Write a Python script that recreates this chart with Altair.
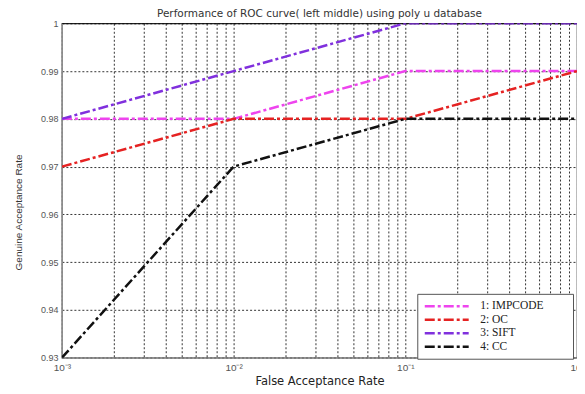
import altair as alt
import pandas as pd

far = [0.001, 0.01, 0.1, 1.0]
impcode = [0.98, 0.98, 0.99, 0.99]
oc = [0.97, 0.98, 0.98, 0.99]
sift = [0.98, 0.99, 1.00, 1.00]
cc = [0.93, 0.97, 0.98, 0.98]
series_names = ["1: IMPCODE", "2: OC", "3: SIFT", "4: CC"]
series_colors = ["#ee44ee", "#e52222", "#8030dd", "#111111"]

x_ticks = [m * 10.0 ** e for e in (-3, -2, -1) for m in range(1, 10)] + [1.0]
y_ticks = [0.93, 0.94, 0.95, 0.96, 0.97, 0.98, 0.99, 1.0]

rows = []
for name, vals in zip(series_names, [impcode, oc, sift, cc]):
    for xv, yv in zip(far, vals):
        rows.append({"series": name, "far": xv, "gar": yv})
df = pd.DataFrame(rows)

xlabel = ("abs(log(datum.value)/LN10 - round(log(datum.value)/LN10)) > 0.001 ? '' : "
          "round(log(datum.value)/LN10) == -3 ? '10\u207b\u00b3' : "
          "round(log(datum.value)/LN10) == -2 ? '10\u207b\u00b2' : "
          "round(log(datum.value)/LN10) == -1 ? '10\u207b\u00b9' : '10\u2070'")

dash = [10, 3, 3, 3]

chart = alt.Chart(df).mark_line(strokeWidth=2.5, strokeDash=dash, clip=True).encode(
    x=alt.X("far:Q", scale=alt.Scale(type="log", domain=[0.001, 1]),
            axis=alt.Axis(values=x_ticks, labelExpr=xlabel, title="False Acceptance Rate",
                          grid=True, gridDash=[2, 2], gridColor="#000", gridOpacity=0.8,
                          ticks=False, labelFontSize=10, labelColor="#555", labelPadding=5,
                          labelFlush=False, titleFontWeight="normal", titleFontSize=11.5,
                          titleColor="#222", titlePadding=3, domainColor="#999",
                          labelFont="Liberation Sans", titleFont="DejaVu Sans")),
    y=alt.Y("gar:Q", scale=alt.Scale(domain=[0.93, 1.0], nice=False, zero=False),
            axis=alt.Axis(values=y_ticks,
                          labelExpr="datum.value >= 0.9999 ? '1' : format(datum.value, '.2f')",
                          title="Genuine Acceptance Rate", grid=True, gridDash=[2, 2],
                          gridColor="#000", gridOpacity=0.8, ticks=False, labelFontSize=9,
                          labelColor="#555", labelPadding=4, titleFontWeight="normal",
                          titleFontSize=10, titleColor="#333", titlePadding=17,
                          titleY=189, titleAlign="center",
                          domainColor="#999", labelFont="Liberation Sans",
                          titleFont="Liberation Sans")),
    color=alt.Color("series:N", scale=alt.Scale(domain=series_names, range=series_colors),
                    legend=alt.Legend(title=None, orient="none", legendX=356, legendY=271,
                                      symbolType="M-1,0L7.8,0", symbolStrokeWidth=2.5,
                                      symbolDash=dash, symbolSize=100,
                                      labelFont="Liberation Serif", labelFontSize=11.5,
                                      labelExpr="datum.label + '\u2003\u2003\u200b'",
                                      labelColor="#222", strokeColor="#555", fillColor="white",
                                      padding=6, rowPadding=1.5, labelOffset=44,
                                      symbolFillColor="transparent")),
).properties(
    width=516, height=335,
    title=alt.TitleParams("Performance of ROC curve( left  middle) using poly u database",
                          fontSize=10.5, fontWeight="normal", font="DejaVu Sans",
                          color="#333", offset=0),
    autosize=alt.AutoSizeParams(type="none"),
    padding={"left": 54, "top": 15, "right": 0, "bottom": 34},
).configure_view(stroke="#222", strokeWidth=1.2)

chart.save("out.html", embed_options={"renderer": "svg", "actions": False})
